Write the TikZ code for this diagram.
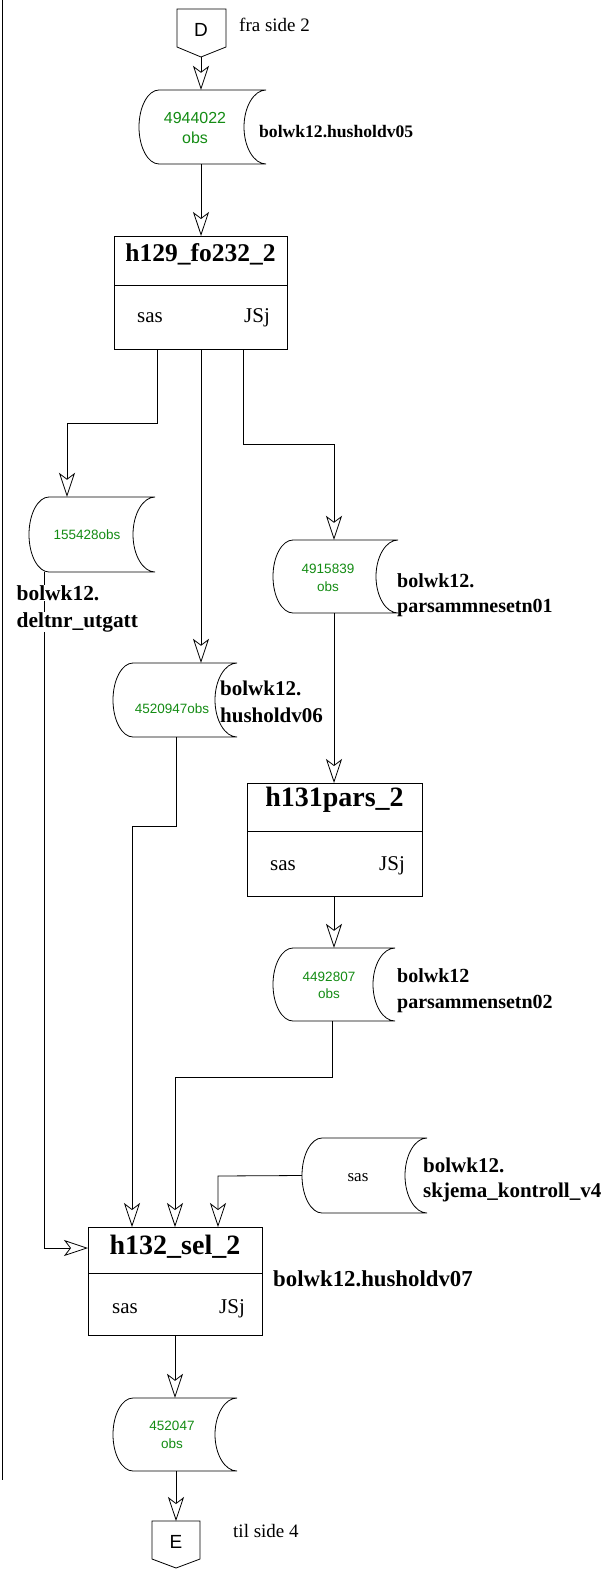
\documentclass[tikz,border=0pt]{standalone}
\usepackage{fontspec}
\setmainfont{Liberation Serif}
\newfontfamily\sansf{Liberation Sans}
\usetikzlibrary{arrows.meta,calc}
\definecolor{obsgreen}{RGB}{20,140,20}
\newcommand\dstore[5]{%
  \pgfmathsetmacro\dsM{(#3+#5)/2}%
  \pgfmathsetmacro\dsH{(#5-#3)/2}%
  \draw[ln, fill=white] (#4,#3) -- (#2+20,#3)
    .. controls (#2+9,#3) and (#2,\dsM-0.55*\dsH) .. (#2,\dsM)
    .. controls (#2,\dsM+0.55*\dsH) and (#2+9,#5) .. (#2+20,#5)
    -- (#4,#5)
    .. controls (#4-12,#5) and (#4-22,\dsM+0.55*\dsH) .. (#4-22,\dsM)
    .. controls (#4-22,\dsM-0.55*\dsH) and (#4-12,#3) .. (#4,#3);
  \node[inner sep=0pt, minimum width={#4-#2}, minimum height={#5-#3}] (#1) at ({(#2+#4)/2},\dsM) {};%
}
\tikzset{
  ln/.style={line width=0.8pt},
  arr/.style={ln, -{Stealth[open, length=24pt, width=16pt, inset=6pt]}},
  lbl/.style={anchor=base west, inner sep=0pt, font=\bfseries\fontsize{21}{25}\selectfont},
  grn/.style={anchor=base, inner sep=0pt, text=obsgreen, font=\sansf\fontsize{13.5}{16}\selectfont},
  ttl/.style={anchor=base, inner sep=0pt, font=\bfseries\fontsize{28}{32}\selectfont},
  sub/.style={anchor=base, inner sep=0pt, font=\fontsize{21}{25}\selectfont},
  note/.style={anchor=base west, inner sep=0pt, font=\fontsize{19}{23}\selectfont},
  conn/.style={anchor=base, inner sep=0pt, font=\sansf\fontsize{19}{23}\selectfont},
  pbox/.style={ln, draw, anchor=north west, inner sep=0pt},
}
\begin{document}
\begin{tikzpicture}[x=1pt,y=-1pt]
\useasboundingbox (0,0) rectangle (614,1573);
% left margin line
\draw[ln] (2,0) coordinate (mt) -- (2,1480) coordinate (mb);

% connector D
\draw[ln] (177,9) -- (226,9) -- (226,47) -- (201,57) -- (177,47) -- cycle;
\coordinate (Dbot) at (201,57);
\node[conn] (Dtxt) at (201,37) {D};
\node[note] (fra) at (239,32) {fra side 2};

% data stores
\dstore{ds1}{139}{90}{266}{164}
\node[grn, font=\sansf\fontsize{16}{19}\selectfont] (g1a) at (195,124) {4944022};
\node[grn, font=\sansf\fontsize{16}{19}\selectfont] (g1b) at (195,144) {obs};
\node[lbl, font=\bfseries\fontsize{17.6}{21}\selectfont] (l1) at (259,138) {bolwk12.husholdv05};

% h129
\node[pbox, minimum width=173, minimum height=113] (h129) at (114,236) {};
\draw[ln] (h129.west |- 0,285) -- (h129.east |- 0,285);
\node[ttl, font=\bfseries\fontsize{25.5}{30}\selectfont] (t129) at (200.5,261) {h129\_fo232\_2};
\node[sub] (s129a) at (150,322) {sas};
\node[sub] (s129b) at (257,322) {JSj};

\dstore{ds2}{29}{497}{155}{572}
\node[grn] (g2) at (87,539) {155428obs};

\dstore{ds3}{113}{663}{237}{737}
\node[grn] (g3) at (172,713) {4520947obs};
\node[lbl] (l3a) at (220,695) {bolwk12.};
\node[lbl] (l3b) at (220,722) {husholdv06};

\dstore{ds4}{273}{540}{398}{613}
\node[grn] (g4a) at (328,573) {4915839};
\node[grn] (g4b) at (328,591) {obs};
\node[lbl, font=\bfseries\fontsize{20}{24}\selectfont] (l4a) at (397,587) {bolwk12.};
\node[lbl, font=\bfseries\fontsize{20}{24}\selectfont] (l4b) at (397,612) {parsammnesetn01};

% h131
\node[pbox, minimum width=175, minimum height=113] (h131) at (247,783) {};
\draw[ln] (h131.west |- 0,831) -- (h131.east |- 0,831);
\node[ttl] (t131) at (334.5,806) {h131pars\_2};
\node[sub] (s131a) at (283,870) {sas};
\node[sub] (s131b) at (392,870) {JSj};

\dstore{ds5}{273}{948}{395}{1021}
\node[grn] (g5a) at (329,981) {4492807};
\node[grn] (g5b) at (329,998) {obs};
\node[lbl, font=\bfseries\fontsize{20}{24}\selectfont] (l5a) at (397,982) {bolwk12};
\node[lbl, font=\bfseries\fontsize{20}{24}\selectfont] (l5b) at (397,1008) {parsammensetn02};

\dstore{ds6}{302}{1138}{427}{1213}
\node[anchor=base, inner sep=0pt, font=\fontsize{17}{20}\selectfont] (g6) at (358,1181) {sas};
\node[lbl] (l6a) at (423,1172) {bolwk12.};
\node[lbl] (l6b) at (423,1197) {skjema\_kontroll\_v4};

% h132
\node[pbox, minimum width=174, minimum height=108] (h132) at (88,1227) {};
\draw[ln] (h132.west |- 0,1273) -- (h132.east |- 0,1273);
\node[ttl] (t132) at (175,1254) {h132\_sel\_2};
\node[sub] (s132a) at (125,1313) {sas};
\node[sub] (s132b) at (232,1313) {JSj};
\node[lbl, font=\bfseries\fontsize{22.8}{27}\selectfont] (l7) at (273,1286) {bolwk12.husholdv07};

\dstore{ds7}{113}{1398}{237}{1471}
\node[grn] (g7a) at (172,1430) {452047};
\node[grn] (g7b) at (172,1448) {obs};

% connector E
\draw[ln] (152,1521) -- (200,1521) -- (200,1559) -- (176,1568) -- (152,1559) -- cycle;
\coordinate (Etop) at (176,1521);
\node[conn] (Etxt) at (176,1548) {E};
\node[note] (til) at (233,1537) {til side 4};

% connectors
\draw[arr] (Dbot) -- (Dbot |- ds1.north);
\draw[arr] (ds1.south -| 201,0) -- (h129.north -| 201,0);
\draw[arr] (h129.south -| 157,0) -- (157,423) -- (67,423) -- (ds2.north -| 67,0);
\draw[arr] (h129.south -| 201,0) -- (ds3.north -| 201,0);
\draw[arr] (h129.south -| 243,0) -- (243,444) -- (334,444) -- (ds4.north -| 334,0);
\draw[arr] (ds4.south -| 334,0) -- (h131.north -| 334,0);
\draw[arr] (h131.south -| 334,0) -- (ds5.north -| 334,0);
\draw[arr] (ds2.south -| 44,0) -- (44,1248) -- (h132.west |- 0,1248);
\draw[arr] (ds3.south -| 176,0) -- (176,826) -- (132,826) -- (h132.north -| 132,0);
\draw[arr] (ds5.south -| 332,0) -- (332,1077) -- (175,1077) -- (h132.north -| 175,0);
\draw[arr] (ds6.west) -- (218,1176) -- (h132.north -| 218,0);
\draw[arr] (h132.south -| 175,0) -- (ds7.north -| 175,0);
\draw[arr] (ds7.south -| 176,0) -- (Etop);

% label over the line
\node[lbl, font=\bfseries\fontsize{21.4}{25}\selectfont, fill=white, inner sep=0.5pt] (l2a) at (16,600) {bolwk12.};
\node[lbl, font=\bfseries\fontsize{21.4}{25}\selectfont, fill=white, inner sep=0.5pt] (l2b) at (16,627) {deltnr\_utgatt};
\end{tikzpicture}
\end{document}
